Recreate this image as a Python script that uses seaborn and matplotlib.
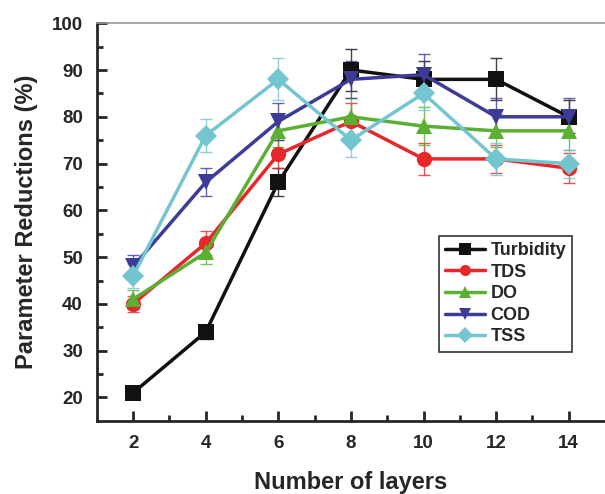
import matplotlib
matplotlib.use("Agg")
import matplotlib.pyplot as plt
import seaborn as sns
import pandas as pd
import numpy as np

layers = [2, 4, 6, 8, 10, 12, 14]
turbidity = [21, 34, 66, 90, 88, 88, 80]
tds = [40, 53, 72, 79, 71, 71, 69]
do = [41, 51, 77, 80, 78, 77, 77]
cod = [48, 66, 79, 88, 89, 80, 80]
tss = [46, 76, 88, 75, 85, 71, 70]

turbidity_err = [0.8, 1.5, 3.0, 4.5, 4.0, 4.5, 3.5]
tds_err = [1.8, 2.5, 3.0, 4.0, 3.5, 3.0, 3.2]
do_err = [2.0, 2.5, 3.5, 4.0, 4.0, 3.5, 4.0]
cod_err = [2.5, 3.0, 4.0, 4.0, 4.5, 4.0, 4.0]
tss_err = [2.5, 3.5, 4.5, 3.5, 3.5, 3.5, 3.0]

names = ["Turbidity", "TDS", "DO", "COD", "TSS"]
series = [turbidity, tds, do, cod, tss]
errs = [turbidity_err, tds_err, do_err, cod_err, tss_err]
colors = ["#111111", "#e8272b", "#5bb034", "#3c3c98", "#73c5d0"]
markers = ["s", "o", "^", "v", "D"]

df = pd.DataFrame({
    "layers": np.tile(layers, len(names)),
    "value": np.concatenate(series),
    "param": np.repeat(names, len(layers)),
})

sns.set_style("ticks")
plt.rcParams["font.family"] = ["Liberation Sans", "DejaVu Sans"]
plt.rcParams["font.weight"] = "bold"

fig = plt.figure(figsize=(6.05, 4.94), dpi=100)
ax = fig.add_axes([0.160, 0.148, 0.840, 0.805])

for name, vals, e, c in zip(names, series, errs, colors):
    ax.errorbar(layers, vals, yerr=e, fmt="none", ecolor=c, elinewidth=1.0,
                capsize=4, capthick=1.0, alpha=0.8, zorder=2)

sns.lineplot(data=df, x="layers", y="value", hue="param", style="param",
             hue_order=names, style_order=names, palette=colors,
             markers=dict(zip(names, markers)), dashes=False,
             linewidth=2.5, markersize=11, markeredgewidth=0,
             ax=ax, zorder=3)

ax.set_xlim(1, 15)
ax.set_ylim(15, 100)
ax.set_xticks(layers)
ax.set_xticks([3, 5, 7, 9, 11, 13], minor=True)
ax.set_yticks(np.arange(20, 101, 10))
ax.set_yticks(np.arange(25, 100, 10), minor=True)
ax.tick_params(axis="both", which="major", direction="in", length=7, width=2,
               labelsize=13.5, pad=10)
ax.tick_params(axis="both", which="minor", direction="in", length=4, width=2)
for lab in ax.get_xticklabels() + ax.get_yticklabels():
    lab.set_fontweight("bold")

ax.spines["left"].set_linewidth(2)
ax.spines["bottom"].set_linewidth(2)
ax.spines["top"].set_color("#999999")
ax.spines["top"].set_linewidth(1.2)
ax.spines["right"].set_visible(False)

ax.set_xlabel("Number of layers", fontsize=17, fontweight="bold", labelpad=14)
ax.set_ylabel("Parameter Reductions (%)", fontsize=17, fontweight="bold", labelpad=10)

handles, labels = ax.get_legend_handles_labels()
leg = ax.legend(handles, labels, loc="upper left", bbox_to_anchor=(0.673, 0.465),
                frameon=True, fancybox=False, edgecolor="black", fontsize=13,
                handlelength=2.2, borderpad=0.35, labelspacing=0.25,
                handletextpad=0.3, borderaxespad=0)
leg.get_frame().set_linewidth(1.2)
for t in leg.get_texts():
    t.set_fontweight("bold")
for h in leg.legend_handles:
    h.set_markersize(8)
    h.set_linewidth(2.5)

fig.savefig("out.png", dpi=100)
